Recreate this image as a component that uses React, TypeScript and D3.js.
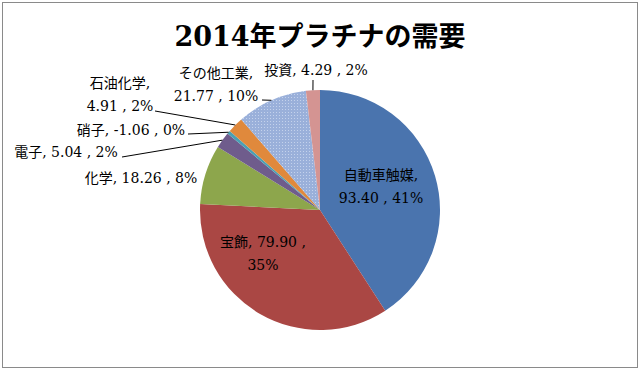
import React, { useRef, useEffect } from 'react';
import * as d3 from 'd3';

const categories = ['自動車触媒', '宝飾', '化学', '電子', '硝子', '石油化学', 'その他工業', '投資'];
const values = [93.4, 79.9, 18.26, 5.04, -1.06, 4.91, 21.77, 4.29];
const percents = ['41%', '35%', '8%', '2%', '0%', '2%', '10%', '2%'];
const colors = ['#4A74AE', '#AA4744', '#8DA64C', '#6F5C8C', '#4AA0B4', '#E0893C', '#9AB0DA', '#D49492'];

// label placement (text lines, centre x, first line y, optional leader start)
const labelLayout = [
  { x: 381, y: 175, lines: (c, v, p) => [`${c},`, `${v} , ${p}`] },
  { x: 263, y: 242, lines: (c, v, p) => [`${c}, ${v} ,`, p] },
  { x: 141, y: 178, lines: (c, v, p) => [`${c}, ${v} , ${p}`] },
  { x: 66, y: 152, lines: (c, v, p) => [`${c}, ${v} , ${p}`], lead: [122, 157] },
  { x: 131, y: 130, lines: (c, v, p) => [`${c}, ${v} , ${p}`], lead: [188, 134] },
  { x: 120, y: 83, lines: (c, v, p) => [`${c},`, `${v} , ${p}`], lead: [155, 111] },
  { x: 216, y: 73, lines: (c, v, p) => [`${c},`, `${v} , ${p}`], lead: [262, 100] },
  { x: 316, y: 70, lines: (c, v, p) => [`${c}, ${v} , ${p}`], lead: [313, 80] },
];

const App = () => {
  const ref = useRef(null);

  useEffect(() => {
    const svg = d3.select(ref.current);
    svg.selectAll('*').remove();
    const width = 640;
    const height = 370;
    const cx = 320;
    const cy = 210;
    const radius = 120;
    const font = '"DejaVu Serif", "Noto Sans CJK JP", serif';

    const defs = svg.append('defs');
    const pat = defs.append('pattern')
      .attr('id', 'dots')
      .attr('width', 3).attr('height', 3)
      .attr('patternUnits', 'userSpaceOnUse');
    pat.append('rect').attr('width', 3).attr('height', 3).attr('fill', colors[6]);
    pat.append('rect').attr('x', 1).attr('y', 1).attr('width', 1).attr('height', 1).attr('fill', '#c4d2ec');

    svg.append('rect')
      .attr('x', 2.5).attr('y', 2.5)
      .attr('width', width - 5).attr('height', height - 5)
      .attr('fill', '#fff')
      .attr('stroke', '#8a8a8a');

    svg.append('text')
      .attr('x', width / 2).attr('y', 46)
      .attr('text-anchor', 'middle')
      .attr('font-family', font)
      .attr('font-weight', 'bold')
      .attr('font-size', 27)
      .attr('fill', '#000')
      .text('2014年プラチナの需要');

    const data = categories.map((c, i) => ({ c, v: values[i], p: percents[i], i }));

    const pie = d3.pie().sort(null).value(d => Math.abs(d.v));
    const arcs = pie(data);
    const arc = d3.arc().innerRadius(0).outerRadius(radius);
    const edge = d3.arc().innerRadius(radius).outerRadius(radius);

    const g = svg.append('g').attr('transform', `translate(${cx},${cy})`);
    g.selectAll('path')
      .data(arcs)
      .enter().append('path')
      .attr('d', arc)
      .attr('fill', d => (d.index === 6 ? 'url(#dots)' : colors[d.index]))
      .attr('stroke', 'none');

    // leader lines
    arcs.forEach((d, i) => {
      const l = labelLayout[i];
      if (!l.lead) return;
      const [ex, ey] = edge.centroid(d);
      svg.append('line')
        .attr('x1', l.lead[0]).attr('y1', l.lead[1])
        .attr('x2', cx + ex).attr('y2', cy + ey)
        .attr('stroke', '#000')
        .attr('stroke-width', 1);
    });

    // labels
    data.forEach((d, i) => {
      const l = labelLayout[i];
      const lines = l.lines(d.c, d.v.toFixed(2), d.p);
      const t = svg.append('text')
        .attr('text-anchor', 'middle')
        .attr('font-family', font)
        .attr('font-size', 14)
        .attr('fill', '#000');
      lines.forEach((s, k) => {
        t.append('tspan')
          .attr('x', l.x)
          .attr('y', l.y + k * 22.5 + 5)
          .text(s);
      });
    });
  }, []);

  return (
    <>
      <style>{`body { margin: 0; } svg { display: block; }`}</style>
      <svg ref={ref} width={640} height={370} />
    </>
  );
};

export default App;
